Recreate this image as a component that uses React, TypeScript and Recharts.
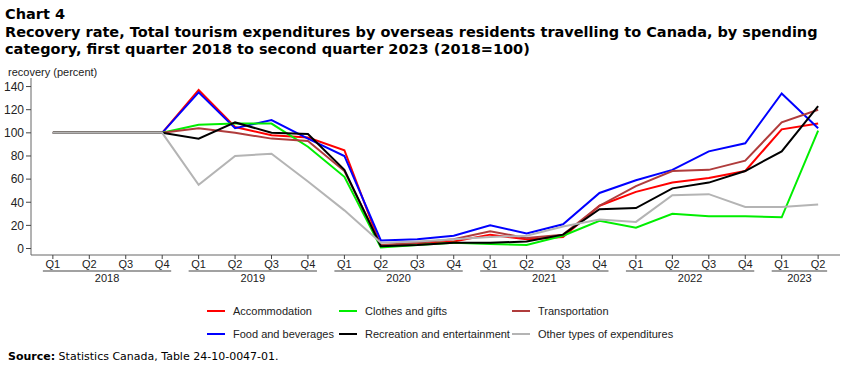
import React from 'react';
import { LineChart, Line, XAxis, YAxis } from 'recharts';

const quarterLabels = ['Q1','Q2','Q3','Q4','Q1','Q2','Q3','Q4','Q1','Q2','Q3','Q4','Q1','Q2','Q3','Q4','Q1','Q2','Q3','Q4','Q1','Q2'];
const yearLabels = ['2018','2018','2018','2018','2019','2019','2019','2019','2020','2020','2020','2020','2021','2021','2021','2021','2022','2022','2022','2022','2023','2023'];

const accommodation = [100,100,100,100, 137,105,98,96, 85,2,4,6, 12,8,10,37, 49,57,61,67, 103,108];
const foodBeverages = [100,100,100,100, 135,104,111,95, 80,7,8,11, 20,13,21,48, 59,68,84,91, 134,104];
const clothesGifts = [100,100,100,100, 107,108,108,88, 62,1,3,5, 4,3,11,24, 18,30,28,28, 27,102];
const transportation = [100,100,100,100, 104,100,95,93, 67,3,5,8, 15,9,12,37, 54,67,68,76, 109,120];
const recreation = [100,100,100,100, 95,109,100,99, 68,2,3,5, 5,6,12,34, 35,52,57,67, 84,123];
const otherTypes = [100,100,100,100, 55,80,82,58, 33,5,6,8, 10,11,19,25, 23,46,47,36, 36,38];

const yTicks = [0,20,40,60,80,100,120,140];

const series = [
  { key: 'accommodation', name: 'Accommodation', color: '#FF0000', values: accommodation },
  { key: 'food', name: 'Food and beverages', color: '#0000FF', values: foodBeverages },
  { key: 'clothes', name: 'Clothes and gifts', color: '#00EE00', values: clothesGifts },
  { key: 'transport', name: 'Transportation', color: '#B03C3C', values: transportation },
  { key: 'recreation', name: 'Recreation and entertainment', color: '#000000', values: recreation },
  { key: 'other', name: 'Other types of expenditures', color: '#B4B4B4', values: otherTypes },
];

const legendOrder = ['accommodation','clothes','transport','food','recreation','other'];

const data = quarterLabels.map((q, i) => {
  const row: any = { x: i, q, year: yearLabels[i] };
  series.forEach(s => { row[s.key] = s.values[i]; });
  return row;
});

const W = 850;
const H = 372;
const M = { top: 78, right: 10, bottom: 0, left: 0 };
const Y_W = 31;
const X_H = 117;
const X_DOMAIN: [number, number] = [-0.6, 21.6];
const Y_DOMAIN: [number, number] = [-5.6, 147.4];
const plotW = W - M.left - M.right - Y_W;
const step = plotW / (X_DOMAIN[1] - X_DOMAIN[0]);

const axisFont = '"Liberation Sans", Arial, sans-serif';

const XTick = (props: any) => {
  const { x, y, payload } = props;
  const i = payload.value as number;
  const yr = yearLabels[i];
  const isFirst = i === 0 || yearLabels[i - 1] !== yr;
  let group: React.ReactNode = null;
  if (isFirst) {
    let n = 0;
    while (i + n < yearLabels.length && yearLabels[i + n] === yr) n++;
    const x1 = x - 10;
    const x2 = x + (n - 1) * step + 9;
    group = (
      <g>
        <line x1={x1} x2={x2} y1={y + 12} y2={y + 12} stroke="#444" strokeWidth={1.2} />
        <text x={(x1 + x2) / 2} y={y + 23} textAnchor="middle" fontSize={11} fill="#222" fontFamily={axisFont}>{yr}</text>
      </g>
    );
  }
  return (
    <g>
      <text x={x} y={y + 9} textAnchor="middle" fontSize={11} fill="#222" fontFamily={axisFont}>{quarterLabels[i]}</text>
      {group}
    </g>
  );
};

export default function App() {
  const legendById: any = {};
  series.forEach(s => { legendById[s.key] = s; });
  return (
    <div style={{ position: 'absolute', left: 0, top: 0, width: W, height: H, background: '#fff', overflow: 'hidden' }}>
      <div style={{ position: 'absolute', left: 5, top: 6, fontFamily: '"DejaVu Sans", Verdana, sans-serif', fontWeight: 'bold', fontSize: 14.5, lineHeight: '17.5px', color: '#000' }}>
        <div>Chart 4</div>
        <div>Recovery rate, Total tourism expenditures by overseas residents travelling to Canada, by spending</div>
        <div>category, first quarter 2018 to second quarter 2023 (2018=100)</div>
      </div>
      <div style={{ position: 'absolute', left: 8, top: 66, fontFamily: axisFont, fontSize: 11, color: '#222' }}>recovery (percent)</div>
      <LineChart width={W} height={H} data={data} margin={M}>
        <XAxis dataKey="x" type="number" domain={X_DOMAIN} ticks={data.map(d => d.x)} interval={0}
          height={X_H} tick={<XTick />} tickSize={4} tickMargin={0} stroke="#666" axisLine={{ stroke: '#666' }} tickLine={{ stroke: '#444' }} allowDataOverflow />
        <XAxis xAxisId="top" orientation="top" dataKey="x" type="number" domain={X_DOMAIN} height={0} tick={false} tickLine={false} axisLine={{ stroke: '#666' }} allowDataOverflow />
        <YAxis type="number" domain={Y_DOMAIN} ticks={yTicks} interval={0} width={Y_W} tickSize={5} tickMargin={2}
          tick={{ fontSize: 12, fill: '#222', fontFamily: axisFont }} axisLine={{ stroke: '#666' }} tickLine={{ stroke: '#444' }} allowDataOverflow />
        <YAxis yAxisId="right" orientation="right" type="number" domain={Y_DOMAIN} width={0} tick={false} tickLine={false} axisLine={{ stroke: '#666' }} />
        {series.map(s => (
          <Line key={s.key} dataKey={s.key} name={s.name} stroke={s.color} strokeWidth={2} dot={false} activeDot={false} isAnimationActive={false} type="linear" />
        ))}
      </LineChart>
      <div style={{ position: 'absolute', left: 0, top: 303, width: W, fontFamily: axisFont, fontSize: 11, color: '#222' }}>
        {legendOrder.map((k, idx) => {
          const s = legendById[k];
          const col = idx % 3;
          const row = Math.floor(idx / 3);
          const lefts = [207, 339, 512];
          return (
            <div key={k} style={{ position: 'absolute', left: lefts[col], top: row * 23, display: 'flex', alignItems: 'center', whiteSpace: 'nowrap', height: 16 }}>
              <span style={{ display: 'inline-block', width: 18, height: 2, background: s.color, marginRight: 8 }} />
              <span>{s.name}</span>
            </div>
          );
        })}
      </div>
      <div style={{ position: 'absolute', left: 8, top: 350, fontFamily: '"DejaVu Sans", Verdana, sans-serif', fontSize: 11, color: '#000' }}>
        <b>Source:</b> Statistics Canada, Table 24-10-0047-01.
      </div>
    </div>
  );
}
